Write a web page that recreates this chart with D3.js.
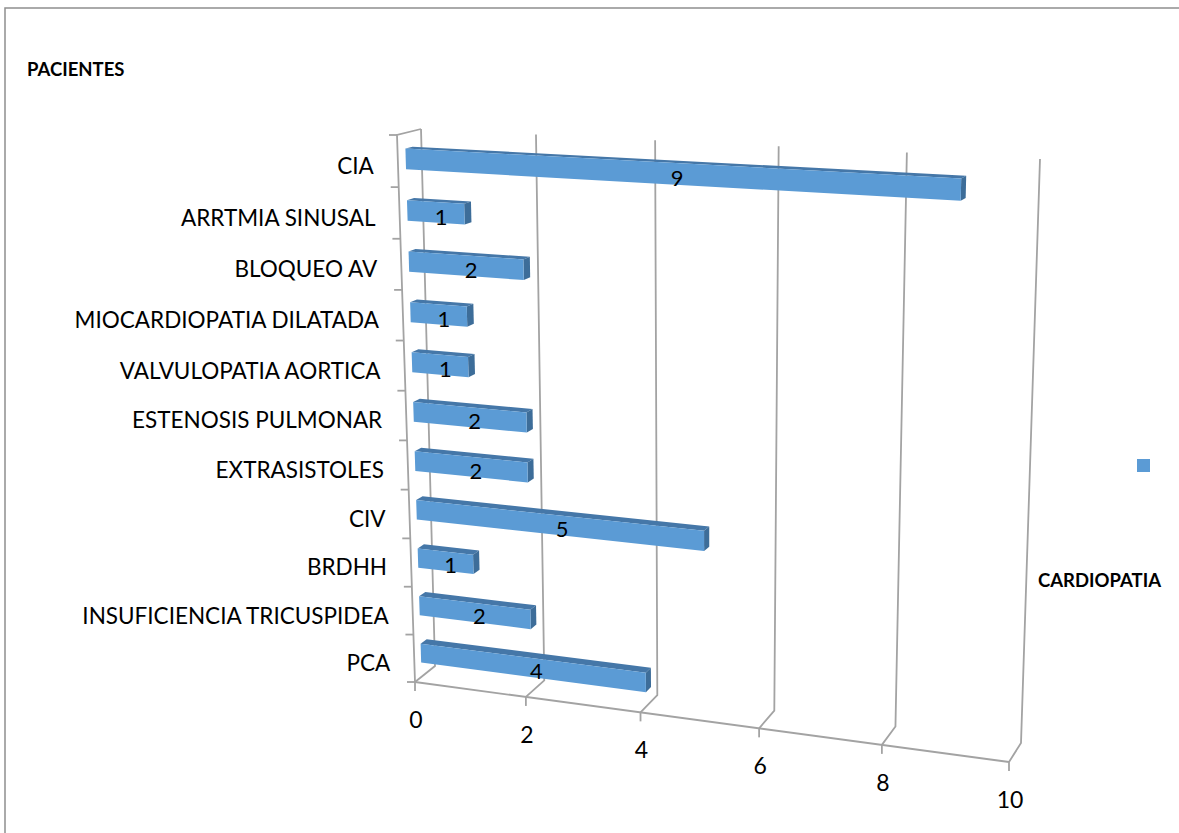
<!DOCTYPE html>
<html>
<head>
<meta charset="utf-8">
<script src="https://cdn.jsdelivr.net/npm/d3@7"></script>
<style>
  body { margin: 0; background: #fff; }
  text { font-family: Lato, "Open Sans", sans-serif; fill: #000; }
</style>
</head>
<body>
<div id="chart"></div>
<script>
// data
var categories = ["CIA", "ARRTMIA SINUSAL", "BLOQUEO AV", "MIOCARDIOPATIA DILATADA",
  "VALVULOPATIA AORTICA", "ESTENOSIS PULMONAR", "EXTRASISTOLES", "CIV", "BRDHH",
  "INSUFICIENCIA TRICUSPIDEA", "PCA"];
var values = [9, 1, 2, 1, 1, 2, 2, 5, 1, 2, 4];
var tickValues = [0, 2, 4, 6, 8, 10];
var yTitle = "PACIENTES";
var xTitle = "CARDIOPATIA";

var wide = 1179;
var high = 833;

var svg = d3.select("#chart").append("svg")
  .attr("width", wide)
  .attr("height", high);

// outer frame
svg.append("rect")
  .attr("x", 5).attr("y", 8)
  .attr("width", wide + 20).attr("height", high + 20)
  .attr("fill", "none")
  .attr("stroke", "#8f8f8f")
  .attr("stroke-width", 1.5);

// screen corners of the plot box: front plane (depth 0) and back wall (depth 1)
// order: (min,bottom) (max,bottom) (max,top) (min,top)
var frontQuad = [[415, 682], [1009, 762], [1024, 168], [397, 135]];
var backQuad = [[435, 666], [1021, 743], [1040, 159], [421, 129]];

// unit square -> quad (perspective)
function squareToQuad(q) {
  var x0 = q[0][0], y0 = q[0][1], x1 = q[1][0], y1 = q[1][1];
  var x2 = q[2][0], y2 = q[2][1], x3 = q[3][0], y3 = q[3][1];
  var dx1 = x1 - x2, dx2 = x3 - x2, dx3 = x0 - x1 + x2 - x3;
  var dy1 = y1 - y2, dy2 = y3 - y2, dy3 = y0 - y1 + y2 - y3;
  var den = dx1 * dy2 - dx2 * dy1;
  var g = (dx3 * dy2 - dx2 * dy3) / den;
  var h = (dx1 * dy3 - dx3 * dy1) / den;
  var a = x1 - x0 + g * x1, b = x3 - x0 + h * x3, c = x0;
  var d = y1 - y0 + g * y1, e = y3 - y0 + h * y3, f = y0;
  return function(u, v) {
    var w = g * u + h * v + 1;
    return [(a * u + b * v + c) / w, (d * u + e * v + f) / w];
  };
}
var frontMap = squareToQuad(frontQuad);
var backMap = squareToQuad(backQuad);

var xScale = d3.scaleLinear().domain([0, 10]).range([0, 1]);
var yScale = d3.scaleBand().domain(categories).range([1, 0])
  .paddingInner(0.6).paddingOuter(0.3);

function project(val, v, z) {
  var u = xScale(val);
  var p = frontMap(u, v), q = backMap(u, v);
  return [p[0] + (q[0] - p[0]) * z, p[1] + (q[1] - p[1]) * z];
}
function poly(pts) {
  return "M" + pts.map(function(p) { return p[0].toFixed(2) + "," + p[1].toFixed(2); }).join("L") + "Z";
}
function line(pts) {
  return "M" + pts.map(function(p) { return p[0].toFixed(2) + "," + p[1].toFixed(2); }).join("L");
}

var gridColor = "#a3a3a3";
var grid = svg.append("g").attr("fill", "none").attr("stroke", gridColor).attr("stroke-width", 1.8);

// gridlines: floor then back wall
tickValues.forEach(function(t) {
  grid.append("path").attr("d", line([project(t, 0, 0), project(t, 0, 1), project(t, 1, 1)]));
});
// left wall front edge and top edge, floor front edge
grid.append("path").attr("d", line([project(0, 0, 0), project(0, 1, 0), project(0, 1, 1)]));
grid.append("path").attr("d", line([project(0, 0, 0), project(10, 0, 0)]));

// category tick marks
d3.range(categories.length + 1).forEach(function(k) {
  var p = project(0, k / categories.length, 0);
  grid.append("path").attr("d", line([[p[0] - 8, p[1]], p]));
});
// value tick marks and labels
tickValues.forEach(function(t) {
  var p = project(t, 0, 0);
  grid.append("path").attr("d", line([p, [p[0], p[1] + 9]]));
  svg.append("text")
    .attr("x", p[0] + 1).attr("y", p[1] + 38)
    .attr("dy", "0.35em")
    .attr("text-anchor", "middle")
    .attr("font-size", 23)
    .text(t);
});

// category labels
categories.forEach(function(c) {
  var v = yScale(c) + yScale.bandwidth() / 2;
  var p = project(0, v, 0);
  svg.append("text")
    .attr("x", p[0] - 24).attr("y", p[1] + 5)
    .attr("dy", "0.35em")
    .attr("text-anchor", "end")
    .attr("font-size", 22.5)
    .text(c);
});

// bars
var z0 = 0.33, z1 = 0.63;
var bars = svg.append("g");
categories.forEach(function(c, i) {
  var val = values[i];
  var vb = yScale(c), vt = yScale(c) + yScale.bandwidth();
  var g = bars.append("g");
  // top face
  g.append("path")
    .attr("d", poly([project(0, vt, z0), project(val, vt, z0), project(val, vt, z1), project(0, vt, z1)]))
    .attr("fill", "#4577a8");
  // end cap
  g.append("path")
    .attr("d", poly([project(val, vb, z0), project(val, vt, z0), project(val, vt, z1), project(val, vb, z1)]))
    .attr("fill", "#3d6d99");
  // front face
  g.append("path")
    .attr("d", poly([project(0, vb, z0), project(val, vb, z0), project(val, vt, z0), project(0, vt, z0)]))
    .attr("fill", "#5b9bd5");
  // value label
  var m = project(val / 2, (vb + vt) / 2, (z0 + z1) / 2);
  g.append("text")
    .attr("x", m[0] + 2).attr("y", m[1] + 6)
    .attr("dy", "0.35em")
    .attr("text-anchor", "middle")
    .attr("font-size", 22)
    .text(val);
});

// titles
svg.append("text")
  .attr("x", 27).attr("y", 76)
  .attr("font-size", 18.5)
  .attr("font-weight", "bold")
  .text(yTitle);
svg.append("text")
  .attr("x", 1038).attr("y", 587)
  .attr("font-size", 18.5)
  .attr("font-weight", "bold")
  .text(xTitle);

// legend marker (series without a name)
svg.append("rect")
  .attr("x", 1137).attr("y", 459)
  .attr("width", 13).attr("height", 13)
  .attr("fill", "#5b9bd5");
</script>
</body>
</html>
